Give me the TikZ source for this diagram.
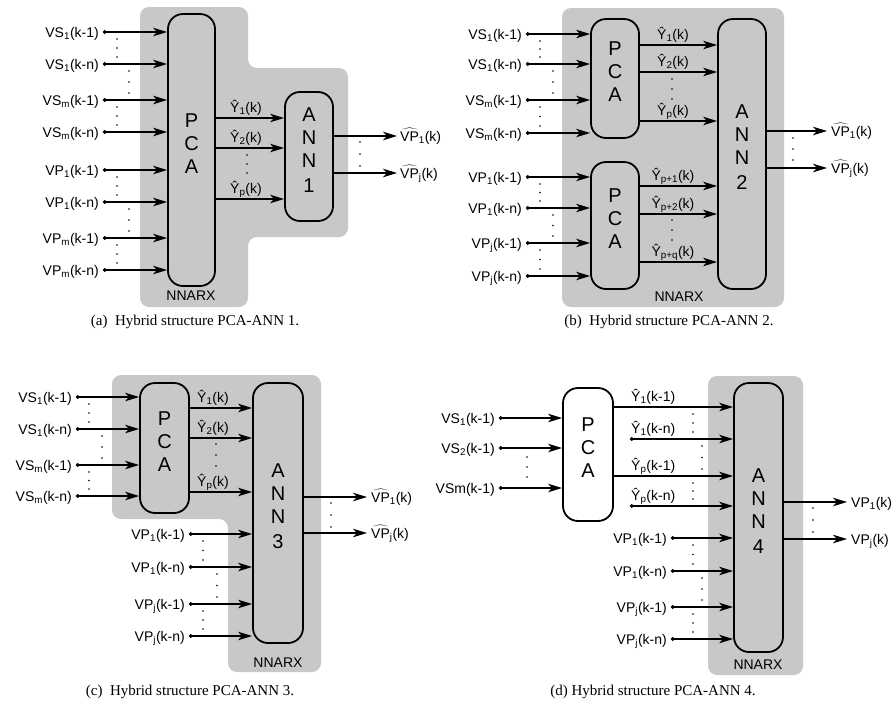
\documentclass[tikz,border=0pt]{standalone}
\usepackage{fontspec}
\setmainfont{Liberation Sans}
\newfontfamily\capfamily{Liberation Serif}
\usetikzlibrary{arrows.meta,fit}
\definecolor{bgc}{RGB}{200,200,200}
\newcommand\lblf{\fontsize{14}{16}\selectfont}
\newcommand\ylblf{\fontsize{14}{15}\selectfont}
\newcommand\boxfont{\fontsize{20}{23}\selectfont}
\newcommand\capf{\capfamily\fontsize{15}{18}\selectfont}
\newcommand\VPh{$\widehat{\mbox{VP}}$}
\newcommand\sbs[1]{\textsubscript{#1}}
\newcommand\dotcol[3]{\foreach \k in {0,1,2}{\fill ({#1},{#2+\k*((#3)-(#2))/2}) circle[radius=0.8pt];}}
\newcommand\dotgap[3]{\dotcol{#1}{#2+7}{#3-7}}
\begin{document}
\begin{tikzpicture}[x=1pt,y=-1pt,line join=round,
  blk/.style={draw, line width=1.8pt, rounded corners=15pt, inner sep=0pt, fill=bgc, font=\boxfont, align=center},
  arr/.style={line width=1.5pt, -{Stealth[length=14pt,width=8.5pt,inset=4pt]}},
  darr/.style={line width=1.5pt, {Circle[length=3.6pt]}-{Stealth[length=14pt,width=8.5pt,inset=4pt]}},
  lab/.style={font=\lblf, inner sep=0pt, anchor=base east},
  ylab/.style={font=\ylblf, inner sep=0pt, anchor=base},
  ylabw/.style={font=\ylblf, inner sep=0pt, anchor=base west},
  olab/.style={font=\lblf, inner sep=0pt, anchor=base west},
  nn/.style={font=\lblf, inner sep=0pt},
  captxt/.style={font=\capf, inner sep=0pt, anchor=base}]
\useasboundingbox (0,0) rectangle (895,713);

% ---------------- (a) ----------------
\fill[bgc, rounded corners=9pt] (140,7) -- (248,7) -- (248,68) -- (348,68) -- (348,237) -- (248,237) -- (248,307) -- (140,307) -- cycle;
\node[blk, fit={(168,14) (215,286)}] (pcaA) {P\\C\\A};
\node[blk, fit={(285,92) (333,221)}] (annA) {A\\N\\N\\[2pt]1};
\foreach \y/\t [count=\i] in {32/VS\sbs{1}(k-1), 64/VS\sbs{1}(k-n), 100/VS\sbs{m}(k-1), 132/VS\sbs{m}(k-n), 170/VP\sbs{1}(k-1), 202/VP\sbs{1}(k-n), 238/VP\sbs{m}(k-1), 270/VP\sbs{m}(k-n)}{
  \coordinate (ia\i) at (103,\y);
  \node[lab] (la\i) at (99,\y+5) {\t};
  \draw[darr] (ia\i) -- (ia\i -| pcaA.west);
}
\dotgap{117}{32}{64} \dotgap{129}{64}{100} \dotgap{117}{100}{132}
\dotgap{117}{170}{202} \dotgap{129}{202}{238} \dotgap{117}{238}{270}
\foreach \y/\t [count=\i] in {118/Ŷ\sbs{1}(k), 148/Ŷ\sbs{2}(k), 199/Ŷ\sbs{p}(k)}{
  \coordinate (ya\i) at (250,\y);
  \draw[arr] (ya\i -| pcaA.east) -- (ya\i -| annA.west);
  \node[ylab] (yla\i) at (246,\y-6) {\t};
}
\dotcol{247}{155}{173}
\foreach \y/\t [count=\i] in {136/\VPh\sbs{1}(k), 173/\VPh\sbs{j}(k)}{
  \coordinate (oa\i) at (397,\y);
  \draw[arr] (oa\i -| annA.east) -- (oa\i);
  \node[olab] (ola\i) at (400,\y+5) {\t};
}
\dotcol{360}{142}{166}
\node[nn] (nnA) at (191,296) {NNARX};
\node[captxt] (capA) at (195,325) {(a)\ \ Hybrid structure PCA-ANN 1.};

% ---------------- (b) ----------------
\fill[bgc, rounded corners=9pt] (562,8) rectangle (784,307);
\node[blk, fit={(591,19) (639,138)}] (pcaB1) {P\\C\\A};
\node[blk, fit={(591,162) (639,289)}] (pcaB2) {P\\C\\A};
\node[blk, fit={(718,19) (766,289)}] (annB) {A\\N\\N\\[2pt]2};
\foreach \y/\t [count=\i] in {34/VS\sbs{1}(k-1), 64/VS\sbs{1}(k-n), 100/VS\sbs{m}(k-1), 133/VS\sbs{m}(k-n)}{
  \coordinate (ib\i) at (526,\y);
  \node[lab] (lb\i) at (522,\y+5) {\t};
  \draw[darr] (ib\i) -- (ib\i -| pcaB1.west);
}
\foreach \y/\t [count=\i] in {177/VP\sbs{1}(k-1), 208/VP\sbs{1}(k-n), 243/VP\sbs{j}(k-1), 276/VP\sbs{j}(k-n)}{
  \coordinate (jb\i) at (526,\y);
  \node[lab] (mb\i) at (522,\y+5) {\t};
  \draw[darr] (jb\i) -- (jb\i -| pcaB2.west);
}
\dotgap{540}{34}{64} \dotgap{553}{64}{100} \dotgap{540}{100}{133}
\dotgap{540}{177}{208} \dotgap{553}{208}{243} \dotgap{540}{243}{276}
\foreach \y/\t [count=\i] in {45/Ŷ\sbs{1}(k), 72/Ŷ\sbs{2}(k), 121/Ŷ\sbs{p}(k)}{
  \coordinate (yb\i) at (678,\y);
  \draw[arr] (yb\i -| pcaB1.east) -- (yb\i -| annB.west);
  \node[ylab] (ylb\i) at (673,\y-6) {\t};
}
\foreach \y/\t [count=\i] in {186/Ŷ\sbs{p+1}(k), 214/Ŷ\sbs{p+2}(k), 262/Ŷ\sbs{p+q}(k)}{
  \coordinate (zb\i) at (678,\y);
  \draw[arr] (zb\i -| pcaB2.east) -- (zb\i -| annB.west);
  \node[ylab] (zlb\i) at (673,\y-6) {\t};
}
\dotcol{672}{79}{99}
\dotcol{672}{220}{240}
\foreach \y/\t [count=\i] in {131/\VPh\sbs{1}(k), 168/\VPh\sbs{j}(k)}{
  \coordinate (ob\i) at (827,\y);
  \draw[arr] (ob\i -| annB.east) -- (ob\i);
  \node[olab] (olb\i) at (831,\y+5) {\t};
}
\dotcol{793}{138}{160}
\node[nn] (nnB) at (679,297) {NNARX};
\node[captxt] (capB) at (669,325) {(b)\ \ Hybrid structure PCA-ANN 2.};

% ---------------- (c) ----------------
\fill[bgc, rounded corners=9pt] (112,375) -- (321,375) -- (321,672) -- (228,672) -- (228,519) -- (112,519) -- cycle;
\node[blk, fit={(140,383) (189,513)}] (pcaC) {P\\C\\A};
\node[blk, fit={(253,383) (303,643)}] (annC) {A\\N\\N\\[2pt]3};
\foreach \y/\t [count=\i] in {397/VS\sbs{1}(k-1), 429/VS\sbs{1}(k-n), 465/VS\sbs{m}(k-1), 496/VS\sbs{m}(k-n)}{
  \coordinate (ic\i) at (76,\y);
  \node[lab] (lc\i) at (72,\y+5) {\t};
  \draw[darr] (ic\i) -- (ic\i -| pcaC.west);
}
\dotgap{89}{397}{429} \dotgap{102}{429}{465} \dotgap{89}{465}{496}
\foreach \y/\t [count=\i] in {408/Ŷ\sbs{1}(k), 438/Ŷ\sbs{2}(k), 492/Ŷ\sbs{p}(k)}{
  \coordinate (yc\i) at (220,\y);
  \draw[arr] (yc\i -| pcaC.east) -- (yc\i -| annC.west);
  \node[ylab] (ylc\i) at (213,\y-6) {\t};
}
\dotcol{216}{444}{466}
\foreach \y/\t [count=\i] in {534/VP\sbs{1}(k-1), 567/VP\sbs{1}(k-n), 604/VP\sbs{j}(k-1), 636/VP\sbs{j}(k-n)}{
  \coordinate (jc\i) at (189,\y);
  \node[lab] (mc\i) at (185,\y+5) {\t};
  \draw[darr] (jc\i) -- (jc\i -| annC.west);
}
\dotgap{203}{534}{567} \dotgap{217}{567}{604} \dotgap{203}{604}{636}
\foreach \y/\t [count=\i] in {497/\VPh\sbs{1}(k), 533/\VPh\sbs{j}(k)}{
  \coordinate (oc\i) at (367,\y);
  \draw[arr] (oc\i -| annC.east) -- (oc\i);
  \node[olab] (olc\i) at (371,\y+5) {\t};
}
\dotcol{331}{503}{527}
\node[nn] (nnC) at (278,663) {NNARX};
\node[captxt] (capC) at (190,695) {(c)\ \ Hybrid structure PCA-ANN 3.};

% ---------------- (d) ----------------
\fill[bgc, rounded corners=9pt] (708,376) rectangle (803,675);
\node[blk, fill=white, fit={(563,388) (613,521)}] (pcaD) {P\\C\\A};
\node[blk, fit={(734,383) (783,652)}] (annD) {A\\N\\N\\[2pt]4};
\foreach \y/\t [count=\i] in {418/VS\sbs{1}(k-1), 448/VS\sbs{2}(k-1), 488/VSm(k-1)}{
  \coordinate (id\i) at (499,\y);
  \node[lab] (ld\i) at (495,\y+5) {\t};
  \draw[darr] (id\i) -- (id\i -| pcaD.west);
}
\dotcol{527}{457}{477}
\coordinate (yd1) at (650,407);
\coordinate (yd2) at (630,439);
\coordinate (yd3) at (650,476);
\coordinate (yd4) at (630,506);
\draw[arr] (yd1 -| pcaD.east) -- (yd1 -| annD.west);
\draw[darr] (yd2) -- (yd2 -| annD.west);
\draw[arr] (yd3 -| pcaD.east) -- (yd3 -| annD.west);
\draw[darr] (yd4) -- (yd4 -| annD.west);
\node[ylabw] (yld1) at (631,401) {Ŷ\sbs{1}(k-1)};
\node[ylabw] (yld2) at (631,433) {Ŷ\sbs{1}(k-n)};
\node[ylabw] (yld3) at (631,470) {Ŷ\sbs{p}(k-1)};
\node[ylabw] (yld4) at (631,500) {Ŷ\sbs{p}(k-n)};
\dotgap{693}{407}{439} \dotgap{702}{439}{476} \dotgap{693}{476}{506}
\foreach \y/\t [count=\i] in {538/VP\sbs{1}(k-1), 571/VP\sbs{1}(k-n), 607/VP\sbs{j}(k-1), 639/VP\sbs{j}(k-n)}{
  \coordinate (jd\i) at (671,\y);
  \node[lab] (md\i) at (667,\y+5) {\t};
  \draw[darr] (jd\i) -- (jd\i -| annD.west);
}
\dotgap{693}{538}{571} \dotgap{702}{571}{607} \dotgap{693}{607}{639}
\foreach \y/\t [count=\i] in {502/VP\sbs{1}(k), 539/VP\sbs{j}(k)}{
  \coordinate (od\i) at (847,\y);
  \draw[arr] (od\i -| annD.east) -- (od\i);
  \node[olab] (old\i) at (851,\y+5) {\t};
}
\dotcol{813}{508}{532}
\node[nn] (nnD) at (758,665) {NNARX};
\node[captxt] (capD) at (653,695) {(d)\ Hybrid structure PCA-ANN 4.};
\end{tikzpicture}
\end{document}
